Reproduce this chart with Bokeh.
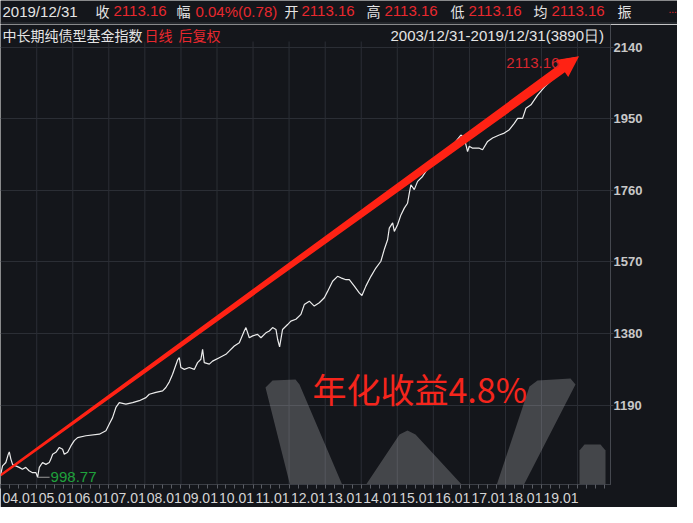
import pandas as pd
from datetime import datetime, timedelta
from bokeh.plotting import figure
from bokeh.layouts import column
from bokeh.models import Range1d, FixedTicker, Label, CustomJSTickFormatter, ColumnDataSource
from bokeh.core.properties import value
from bokeh.embed import file_html
from bokeh.resources import INLINE

# ---------------- data ----------------
dates = [
    "2003-12-31", "2004-01-21", "2004-02-23", "2004-03-19", "2004-03-29", "2004-04-14",
    "2004-05-01", "2004-06-03", "2004-07-07", "2004-08-09", "2004-09-12", "2004-10-15",
    "2004-11-20", "2004-12-24", "2005-01-10", "2005-01-27", "2005-03-01", "2005-04-04",
    "2005-05-08", "2005-05-24", "2005-06-11", "2005-07-14", "2005-08-18", "2005-09-20",
    "2005-10-07", "2005-11-10", "2005-12-13", "2006-01-16", "2006-02-19", "2006-05-14",
    "2006-09-27", "2006-12-03", "2007-01-06", "2007-02-08", "2007-03-14", "2007-04-17",
    "2007-06-23", "2007-08-30", "2007-11-06", "2008-01-12", "2008-02-15", "2008-04-22",
    "2008-06-29", "2008-08-01", "2008-09-05", "2008-10-08", "2008-11-28", "2008-12-15",
    "2008-12-31", "2009-02-04", "2009-03-26", "2009-05-16", "2009-06-18", "2009-07-22",
    "2009-08-08", "2009-08-25", "2009-10-15", "2009-11-17", "2010-01-24", "2010-04-01",
    "2010-05-06", "2010-06-25", "2010-08-15", "2010-10-04", "2010-10-21", "2010-11-24",
    "2010-12-28", "2011-02-16", "2011-03-22", "2011-05-11", "2011-06-15", "2011-07-18",
    "2011-08-21", "2011-09-07", "2011-09-27", "2011-10-27", "2011-12-17", "2012-01-19",
    "2012-03-10", "2012-04-30", "2012-06-03", "2012-07-24", "2012-09-12", "2012-11-02",
    "2012-12-23", "2013-01-25", "2013-03-17", "2013-05-06", "2013-06-09", "2013-07-30",
    "2013-09-02", "2013-10-23", "2013-12-12", "2014-01-08", "2014-02-17", "2014-04-09",
    "2014-05-29", "2014-07-19", "2014-08-22", "2014-09-25", "2014-10-12", "2014-11-15",
    "2014-12-02", "2015-01-04", "2015-02-07", "2015-03-13", "2015-04-15", "2015-05-03",
    "2015-05-19", "2015-06-22", "2015-07-26", "2015-09-14", "2015-11-21", "2016-01-27",
    "2016-03-18", "2016-06-11", "2016-07-31", "2016-10-06", "2016-11-10", "2016-12-13",
    "2016-12-30", "2017-02-02", "2017-04-11", "2017-05-14", "2017-07-04", "2017-08-23",
    "2017-10-30", "2017-12-20", "2018-02-09", "2018-03-31", "2018-05-04", "2018-06-23",
    "2018-07-27", "2018-09-16", "2018-10-20", "2018-11-22", "2019-02-01", "2019-04-23",
    "2019-07-13", "2019-10-02", "2019-12-31",
]
index_values = [
    1004, 1029, 1038, 1060, 1066, 1047,
    1033, 1029, 1025, 1020, 1025, 1016,
    1011, 1011, 998.77, 1025, 1038, 1033,
    1038, 1047, 1060, 1065, 1078, 1073,
    1060, 1065, 1082, 1096, 1104, 1109,
    1113, 1122, 1140, 1157, 1184, 1197,
    1193, 1197, 1202, 1210, 1219, 1224,
    1228, 1237, 1252, 1272, 1310, 1316,
    1290, 1285, 1290, 1285, 1303, 1312,
    1338, 1303, 1299, 1307, 1316, 1325,
    1334, 1347, 1356, 1387, 1396, 1369,
    1374, 1378, 1369, 1382, 1387, 1396,
    1391, 1365, 1345, 1391, 1404, 1413,
    1418, 1431, 1457, 1466, 1453, 1462,
    1475, 1492, 1519, 1532, 1528, 1523,
    1523, 1506, 1488, 1481, 1506, 1532,
    1554, 1572, 1603, 1629, 1660, 1674,
    1651, 1669, 1695, 1713, 1726, 1753,
    1775, 1762, 1784, 1797, 1824, 1837,
    1859, 1872, 1885, 1907, 1899, 1863,
    1877, 1872, 1872, 1868, 1890, 1899,
    1907, 1912, 1921, 1938, 1951, 1951,
    1978, 1987, 2000, 2013, 2035, 2055,
    2075, 2095, 2113.16,
]
y_ticks = [1190, 1380, 1570, 1760, 1950, 2140]
x_tick_labels = ["04.01", "05.01", "06.01", "07.01", "08.01", "09.01", "10.01", "11.01",
                 "12.01", "13.01", "14.01", "15.01", "16.01", "17.01", "18.01", "19.01"]
label_years = list(range(2004, 2020))
grid_years = list(range(2005, 2021))

header_row1 = [("2019/12/31", "w"), ("收", "w"), ("2113.16", "r"), ("幅", "w"),
               ("0.04%(0.78)", "r"), ("开", "w"), ("2113.16", "r"), ("高", "w"),
               ("2113.16", "r"), ("低", "w"), ("2113.16", "r"), ("均", "w"),
               ("2113.16", "r"), ("振", "w")]
header_row1_x = [10, 103, 121, 184, 203, 292, 309, 374, 392, 458, 476, 541, 559, 625]
title_text = "中长期纯债型基金指数"
tag1 = "日线"
tag2 = "后复权"
period_text = "2003/12/31-2019/12/31(3890日)"
annual_text = "年化收益4.8%"

# ---------------- style / geometry ----------------
BG = "#14161b"
WHITE = "#e4e4e4"
RED = "#e8282e"
GRID = "#2b2e35"
W, H = 677, 507
HH = 24                                   # header figure height (page 8..32)
FL, FR, FT, FB = 8, 618, 32, 492          # main frame edges in page pixels
GT = 49                                   # top of the vertical grid lines
FW, FH = FR - FL, FB - FT

# ---------------- header figure (first row) ----------------
hd = figure(width=W, height=HH, output_backend="svg", toolbar_location=None,
            x_axis_type=None, y_axis_type=None, x_range=Range1d(0, W), y_range=Range1d(0, HH),
            min_border=0)
hd.frame_align = False
hd.background_fill_color = BG
hd.border_fill_color = BG
hd.outline_line_color = None
hd.grid.visible = False


def hx(X):
    return X - 8


def hy(Y):
    return FT - Y


hd.line([hx(8), hx(685)], [hy(30.5), hy(30.5)], line_color="#33363d", line_width=1)


def htext(t, X, Y, color, font, size):
    hd.text([hx(X)], [hy(Y)], text=[t], text_color=color, text_font=value(font),
            text_font_size=value(size), text_baseline="middle", text_align="left")


for (t, c), X in zip(header_row1, header_row1_x):
    cjk = not t[0].isdigit()
    htext(t, X, 18.5, WHITE if c == "w" else RED,
          "Noto Sans CJK SC" if cjk else "Liberation Sans", "14px" if cjk else "15px")
htext("...", 676, 16, RED, "Liberation Sans", "10px")

# ---------------- main figure ----------------
x0 = datetime(2003, 12, 31)
days_per_px = 10.129
x1 = x0 + timedelta(days=FW * days_per_px)
ppu_val = 2.6536                          # value units per pixel (from the tick spacing)
y0 = 1190 - (FB - 412.7) * ppu_val
y1 = 1190 + (412.7 - FT) * ppu_val

p = figure(width=W, height=H - HH, output_backend="svg", toolbar_location=None,
           x_axis_type="datetime", y_axis_location="right",
           x_range=Range1d(x0, x1), y_range=Range1d(y0, y1),
           min_border_left=0, min_border_right=W - (FR - 8),
           min_border_top=0, min_border_bottom=H - (FB - 8))
p.frame_align = False
p.background_fill_color = BG
p.border_fill_color = BG
p.outline_line_color = None


def ms(d):
    return int((pd.Timestamp(d) - pd.Timestamp("1970-01-01")) / pd.Timedelta(milliseconds=1))


label_ticks = [ms(datetime(y, 1, 1) + timedelta(days=197)) for y in label_years]
quarter_ticks = [ms(datetime(y, m, 1)) for y in range(2004, 2021) for m in (1, 4, 7, 10)]

p.xgrid.visible = False
p.ygrid.ticker = FixedTicker(ticks=y_ticks)
p.ygrid.grid_line_color = GRID
p.ygrid.grid_line_width = 1

xa = p.xaxis[0]
xa.ticker = FixedTicker(ticks=label_ticks, minor_ticks=quarter_ticks)
xa.formatter = CustomJSTickFormatter(args=dict(labels=x_tick_labels), code="return labels[index];")
xa.major_tick_line_color = None
xa.major_tick_out = 0
xa.major_tick_in = 0
xa.minor_tick_in = 0
xa.minor_tick_out = 4
xa.minor_tick_line_color = "#5a5d64"
xa.axis_line_color = "#3c3f46"
xa.major_label_text_font = "Liberation Sans"
xa.major_label_text_font_size = "14px"
xa.major_label_text_color = "#d4d4d4"
xa.major_label_standoff = 4

ya = p.yaxis[0]
ya.ticker = FixedTicker(ticks=y_ticks)
ya.major_tick_in = 0
ya.major_tick_out = 3
ya.major_tick_line_color = "#3a3d44"
ya.minor_tick_line_color = None
ya.axis_line_color = "#45484f"
ya.major_label_text_font = "Liberation Sans"
ya.major_label_text_font_size = "13px"
ya.major_label_text_font_style = "bold"
ya.major_label_text_color = "#c8c8c8"
ya.major_label_standoff = 0

# scales for decoration geometry
xms0, xms1 = ms(x0), ms(x1)
ppms = FW / (xms1 - xms0)
ppu = FH / (y1 - y0)
grid_top_val = y0 + (FB - GT) / ppu


def px_to_data(pts):
    return ([xms0 + (X - FL) / ppms for X, Y in pts], [y0 + (FB - Y) / ppu for X, Y in pts])


# vertical year grid lines (start below the title row)
gx = [ms(datetime(y, 1, 1)) for y in grid_years]
p.segment(x0=gx, y0=[y0] * len(gx), x1=gx, y1=[grid_top_val] * len(gx),
          line_color=GRID, line_width=1)

# watermark logo shapes (behind the data)
logo_w = [(273, 395), (280, 388), (303, 387), (307, 392), (359, 514), (407, 442), (415, 438),
          (423, 442), (495, 520), (537, 394), (545, 388), (578, 386), (583, 392), (512, 530),
          (307, 530)]
logo_i = [(587, 530), (587, 458), (592, 452), (608, 452), (613, 458), (613, 530)]
wxs, wys = zip(*[px_to_data(logo_w), px_to_data(logo_i)])
p.patches(list(wxs), list(wys), fill_color="#c8c8cc", fill_alpha=0.27, line_color=None)

# data line
dts = pd.to_datetime(dates)
d_ms = [ms(d) for d in dts]
src = ColumnDataSource(dict(x=d_ms, y=index_values))
p.line("x", "y", source=src, line_color="#ececec", line_width=1.2)

# low label + leader
i_low = min(range(len(index_values)), key=lambda i: index_values[i])
lx, lv = d_ms[i_low], index_values[i_low]
p.line([lx, lx + 12 / ppms], [lv, lv], line_color="#9a9a9a", line_width=1)
p.add_layout(Label(x=lx, y=lv, x_offset=13, text=f"{lv:.2f}", text_font="Liberation Sans",
                   text_font_size="15px", text_color="#1fa23c", text_baseline="middle"))

# end label + leader
ex, ev = d_ms[-1], index_values[-1]
p.line([ex, ex - 17 / ppms], [ev, ev - 3 / ppu], line_color="#9a9a9a", line_width=1)
p.add_layout(Label(x=ex, y=ev, x_offset=-18, y_offset=-6, text=f"{ev:.2f}", text_font="Liberation Sans",
                   text_font_size="15px", text_color="#d8262e", text_align="right",
                   text_baseline="middle"))

# tapered arrow from first to last value
s0, u0 = (d_ms[0] - xms0) * ppms, (index_values[0] - y0) * ppu
s1, u1 = (d_ms[-1] - xms0) * ppms, (index_values[-1] - y0) * ppu
L = ((s1 - s0) ** 2 + (u1 - u0) ** 2) ** 0.5
ds, du = (s1 - s0) / L, (u1 - u0) / L
ps, pu = -du, ds
ts, tu = s1 + 2 * ds, u1 + 2 * du
head_len, head_half, shaft_end, shaft_start = 21, 10.5, 4.8, 1.2
bs, bu = ts - head_len * ds, tu - head_len * du
poly = [
    (s0 + ps * shaft_start, u0 + pu * shaft_start),
    (bs + ps * shaft_end, bu + pu * shaft_end),
    (bs + ps * head_half, bu + pu * head_half),
    (ts, tu),
    (bs - ps * head_half, bu - pu * head_half),
    (bs - ps * shaft_end, bu - pu * shaft_end),
    (s0 - ps * shaft_start, u0 - pu * shaft_start),
]
p.patch([xms0 + a / ppms for a, b in poly], [y0 + b / ppu for a, b in poly],
        fill_color="#ff2214", line_color=None)


def mlabel(t, X, Y, color, font, size):
    p.add_layout(Label(x=X - FL, y=FB - Y, x_units="screen", y_units="screen", text=t,
                       text_font=font, text_font_size=size, text_color=color,
                       text_baseline="middle"))


# second title row (inside the main canvas)
mlabel(title_text, 10, 42.5, WHITE, "Noto Sans CJK SC", "14px")
mlabel(tag1, 152, 42.5, RED, "Noto Sans CJK SC", "14px")
mlabel(tag2, 186, 42.5, RED, "Noto Sans CJK SC", "14px")
mlabel(period_text, 398, 42.5, WHITE, "Liberation Sans", "15px")

# annual return text
mlabel(annual_text, 320, 396, "#f5251c", "Noto Sans CJK SC", "34px")

layout = column(hd, p, spacing=0)
open("out.html", "w").write(file_html(layout, INLINE))
